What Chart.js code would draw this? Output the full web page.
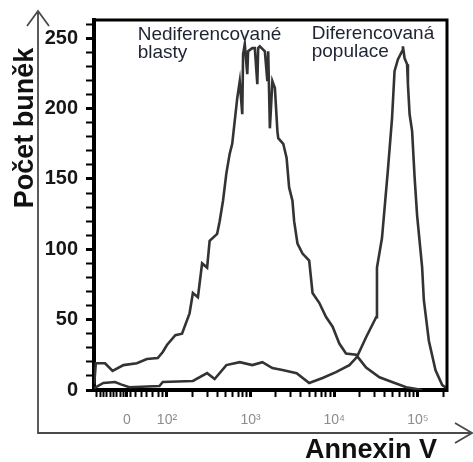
<!DOCTYPE html>
<html>
<head>
<meta charset="utf-8">
<script src="https://cdn.jsdelivr.net/npm/chart.js@4/dist/chart.umd.min.js"></script>
<style>
  html, body { margin: 0; padding: 0; background: #fff; }
</style>
</head>
<body>
<canvas id="annexinChart" width="473" height="462"></canvas>
<script>
// x values are display positions on the logicle axis (2 = 10^2, 3 = 10^3, ...)
const blastX = [1.13, 1.15, 1.26, 1.35, 1.48, 1.64, 1.76, 1.89, 1.95, 2.0, 2.10, 2.18, 2.27, 2.31, 2.37, 2.42, 2.48, 2.51,
  2.60, 2.63, 2.67, 2.71, 2.75, 2.78, 2.84, 2.87, 2.90, 2.91, 2.93, 2.96, 2.97, 3.02, 3.05, 3.08, 3.09, 3.11, 3.17,
  3.20, 3.21, 3.23, 3.26, 3.29, 3.32, 3.33, 3.39, 3.43, 3.46, 3.50, 3.52, 3.56, 3.62, 3.70, 3.74, 3.82, 3.90, 3.98,
  4.06, 4.14, 4.26, 4.38, 4.54, 4.69, 4.86, 5.05];
const blastCounts = [4, 19, 19, 13.5, 17.7, 19, 22, 22.7, 27, 32, 39, 40, 54.5, 69, 66, 90, 87, 106,
  111, 120, 134.5, 154, 168, 175, 207.5, 219.5, 196, 238.7, 245.8, 224.5, 240.8, 243, 243, 217.4, 243, 244.3, 240.8,
  219.5, 240.8, 186, 219.5, 214.6, 184, 179, 175, 165, 144, 134.5, 120, 104, 97, 92, 69, 62, 52, 45,
  33, 26, 25, 16, 9, 5.7, 2, 0];

const diffX = [1.13, 1.24, 1.38, 1.45, 1.55, 1.91, 1.95, 2.31, 2.48, 2.57, 2.71, 2.87, 3.02, 3.14, 3.26, 3.38, 3.55,
  3.70, 3.86, 4.02, 4.18, 4.27, 4.38, 4.50, 4.51, 4.57, 4.64, 4.69, 4.72, 4.76, 4.81, 4.82, 4.84, 4.87, 4.88,
  4.90, 4.93, 4.96, 4.99, 5.05, 5.07, 5.13, 5.21, 5.29, 5.34];
const diffCounts = [1.4, 5, 5.7, 4, 2, 2.8, 5.7, 6.4, 12, 7.8, 17.7, 19.8, 17.7, 19.8, 15.6, 14.2, 12,
  5, 8.5, 12.7, 17.7, 23.4, 37.5, 51.7, 87, 108, 156, 193, 226.6, 235, 240.8, 244.3, 235.8, 231.6, 217.4,
  196, 184, 151, 124, 87, 64, 35, 14, 3.5, 1.4];

const majorTickPos = [1.52, 2, 3, 4, 5];
const majorTickLabels = ['0', '10²', '10³', '10⁴', '10⁵'];
const minorTickPos = [1.16, 1.20, 1.24, 1.28, 1.32, 1.36, 1.40, 1.44, 1.48, 1.56, 1.62, 1.69, 1.76, 1.83, 1.90, 1.95,
  2.30, 2.48, 2.60, 2.70, 2.78, 2.85, 2.90, 2.95,
  3.30, 3.48, 3.60, 3.70, 3.78, 3.85, 3.90, 3.95,
  4.30, 4.48, 4.60, 4.70, 4.78, 4.85, 4.90, 4.95, 5.30];

const yLabelValues = [0, 50, 100, 150, 200, 250];
const yMinorStep = 10;

const annotationLines = [['Nediferencované', 'blasty'], ['Diferencovaná', 'populace']];
const annotationX = [1.65, 3.73];
const annotationY = [248.6, 249.5];

const textFont = '"Liberation Sans", Arial, sans-serif';
const curveColor = '#333333';

const xTicks = majorTickPos.concat(minorTickPos).sort((a, b) => a - b);

// frame, outer arrow axes, titles and the two curve labels
const decorations = {
  id: 'decorations',
  afterDraw(chart) {
    const { ctx, chartArea: a, scales: { x, y } } = chart;
    ctx.save();

    ctx.strokeStyle = '#000';
    ctx.lineWidth = 3;
    ctx.beginPath();
    ctx.moveTo(a.left - 2, a.top);
    ctx.lineTo(a.right, a.top);
    ctx.lineTo(a.right, a.bottom + 2);
    ctx.stroke();

    ctx.strokeStyle = '#4a4a4a';
    ctx.lineWidth = 1.8;
    ctx.beginPath();
    ctx.moveTo(38, 12);
    ctx.lineTo(38, 433);
    ctx.lineTo(471, 433);
    ctx.moveTo(27, 26);
    ctx.lineTo(38, 11);
    ctx.lineTo(49, 26);
    ctx.moveTo(455, 423);
    ctx.lineTo(472, 433);
    ctx.lineTo(455, 443);
    ctx.stroke();

    ctx.fillStyle = '#111';
    ctx.font = 'bold 27px ' + textFont;
    ctx.textBaseline = 'alphabetic';
    ctx.textAlign = 'left';
    ctx.fillText('Annexin V', 305, 458);

    ctx.save();
    ctx.translate(33, 128);
    ctx.rotate(-Math.PI / 2);
    ctx.textAlign = 'center';
    ctx.fillText('Počet buněk', 0, 0);
    ctx.restore();

    ctx.fillStyle = '#1f2433';
    ctx.font = '19px ' + textFont;
    ctx.textAlign = 'left';
    annotationLines.forEach((lines, i) => {
      const px = x.getPixelForValue(annotationX[i]);
      const py = y.getPixelForValue(annotationY[i]);
      lines.forEach((line, j) => ctx.fillText(line, px, py + j * 18));
    });

    ctx.restore();
  }
};

const ctx = document.getElementById('annexinChart').getContext('2d');
const chart = new Chart(ctx, {
  type: 'line',
  data: {
    datasets: [{
      label: 'Nediferencované blasty',
      data: blastX.map((v, i) => ({ x: v, y: blastCounts[i] })),
      borderColor: curveColor,
      borderWidth: 2.6,
      pointRadius: 0,
      tension: 0,
      fill: false
    }, {
      label: 'Diferencovaná populace',
      data: diffX.map((v, i) => ({ x: v, y: diffCounts[i] })),
      borderColor: curveColor,
      borderWidth: 2.6,
      pointRadius: 0,
      tension: 0,
      fill: false
    }]
  },
  options: {
    responsive: false,
    animation: false,
    layout: { padding: { top: 19, right: 26, bottom: 0, left: 0 } },
    plugins: {
      legend: { display: false },
      tooltip: { enabled: false }
    },
    scales: {
      x: {
        type: 'linear',
        min: 1.128,
        max: 5.347,
        afterBuildTicks: scale => { scale.ticks = xTicks.map(v => ({ value: v })); },
        afterFit: scale => { scale.height = 72; },
        ticks: {
          autoSkip: false,
          maxRotation: 0,
          padding: 15,
          color: '#8c8c8c',
          font: { family: textFont, size: 14 },
          callback: function (value) {
            const i = majorTickPos.indexOf(value);
            return i >= 0 ? majorTickLabels[i] : '';
          }
        },
        grid: {
          drawOnChartArea: false,
          tickLength: 7,
          tickWidth: c => (c.tick && majorTickPos.includes(c.tick.value)) ? 3 : 2,
          tickColor: '#000'
        },
        border: { display: true, color: '#000', width: 4 }
      },
      y: {
        min: 0,
        max: 263,
        afterBuildTicks: scale => {
          const t = [];
          for (let v = 0; v <= 260; v += yMinorStep) t.push({ value: v });
          scale.ticks = t;
        },
        afterFit: scale => { scale.width = 94; },
        ticks: {
          autoSkip: false,
          padding: 8,
          color: '#161616',
          font: { family: textFont, size: 20, weight: 'bold' },
          callback: v => yLabelValues.includes(v) ? v : ''
        },
        grid: {
          drawOnChartArea: false,
          tickLength: 8,
          tickWidth: c => (c.tick && yLabelValues.includes(c.tick.value)) ? 3 : 2,
          tickColor: '#000'
        },
        border: { display: true, color: '#000', width: 4 }
      }
    }
  },
  plugins: [decorations]
});
</script>
</body>
</html>
